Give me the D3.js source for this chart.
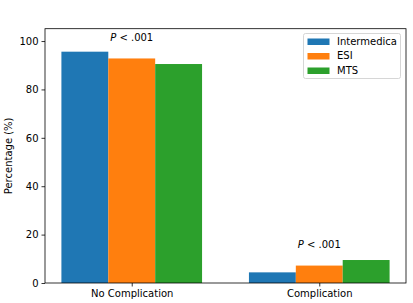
<!DOCTYPE html>
<html>
<head>
<meta charset="utf-8">
<script src="https://cdn.jsdelivr.net/npm/d3@7"></script>
<style>
  body { margin: 0; background: #fff; }
  text { font-family: "DejaVu Sans", sans-serif; }
</style>
</head>
<body>
<div id="chart"></div>
<script>
const categories = ['No Complication', 'Complication'];
const seriesNames = ['Intermedica', 'ESI', 'MTS'];
const intermedica = [95.6, 4.4];
const esi = [92.8, 7.2];
const mts = [90.5, 9.5];
const annotations = [
  { cat: 0, y: 101.2, text: '.001' },
  { cat: 1, y: 15.7, text: '.001' }
];
const yTicks = [0, 20, 40, 60, 80, 100];

const series = [intermedica, esi, mts];
const colors = ['#1f77b4', '#ff7f0e', '#2ca02c'];

const width = 413, height = 303;
const margin = { left: 45, right: 7, top: 28.7, bottom: 20 };
const barW = 0.25;
const fs = '10px';

const svg = d3.select('#chart').append('svg').attr('width', width).attr('height', height);

const x = d3.scaleLinear().domain([-0.4625, 1.4625]).range([margin.left, width - margin.right]);
const y = d3.scaleLinear().domain([0, 105.1]).range([height - margin.bottom, margin.top]);

// bars
series.forEach((vals, si) => {
  svg.append('g')
    .selectAll('rect')
    .data(vals)
    .enter()
    .append('rect')
    .attr('x', (d, i) => x(i + (si - 1) * barW - barW / 2))
    .attr('width', x(barW) - x(0))
    .attr('y', d => y(d))
    .attr('height', d => y(0) - y(d))
    .style('fill', colors[si]);
});

// axes
const yAxis = d3.axisLeft(y).tickValues(yTicks).tickSize(3.5).tickPadding(3).tickFormat(d3.format('d'));
const xAxis = d3.axisBottom(x).tickValues([0, 1]).tickSize(3.5).tickPadding(3).tickFormat(i => categories[i]);

const gy = svg.append('g').attr('transform', `translate(${margin.left},0)`).call(yAxis);
const gx = svg.append('g').attr('transform', `translate(0,${height - margin.bottom})`).call(xAxis);
[gx, gy].forEach(g => {
  g.select('.domain').remove();
  g.selectAll('.tick line').style('stroke', '#000').style('stroke-width', 0.8);
  g.selectAll('.tick text').style('font-size', fs).style('fill', '#000').style('font-family', '"DejaVu Sans", sans-serif');
});

// frame
svg.append('rect')
  .attr('x', margin.left)
  .attr('y', margin.top)
  .attr('width', width - margin.left - margin.right)
  .attr('height', height - margin.top - margin.bottom)
  .style('fill', 'none')
  .style('stroke', '#000')
  .style('stroke-width', 0.8);

// y label
svg.append('text')
  .attr('transform', `translate(9,${(margin.top + height - margin.bottom) / 2}) rotate(-90)`)
  .attr('text-anchor', 'middle')
  .attr('dominant-baseline', 'middle')
  .style('font-size', fs)
  .text('Percentage (%)');

// p-value annotations
annotations.forEach(a => {
  const t = svg.append('text')
    .attr('x', x(a.cat))
    .attr('y', y(a.y))
    .attr('text-anchor', 'middle')
    .attr('dominant-baseline', 'middle')
    .style('font-size', fs);
  t.append('tspan').style('font-style', 'italic').text('P');
  t.append('tspan').text(' < ' + a.text);
});

// legend
const lg = svg.append('g');
lg.append('rect')
  .attr('x', 303.5).attr('y', 33.5)
  .attr('width', 97).attr('height', 45)
  .attr('rx', 2)
  .style('fill', '#fff').style('fill-opacity', 0.8)
  .style('stroke', '#ccc').style('stroke-width', 0.8);
seriesNames.forEach((name, i) => {
  const yy = 41.5 + i * 14.5;
  lg.append('rect')
    .attr('x', 307.5).attr('y', yy - 3)
    .attr('width', 22).attr('height', 6.5)
    .style('fill', colors[i]);
  lg.append('text')
    .attr('x', 337).attr('y', yy)
    .attr('dominant-baseline', 'middle')
    .style('font-size', fs)
    .text(name);
});
</script>
</body>
</html>
